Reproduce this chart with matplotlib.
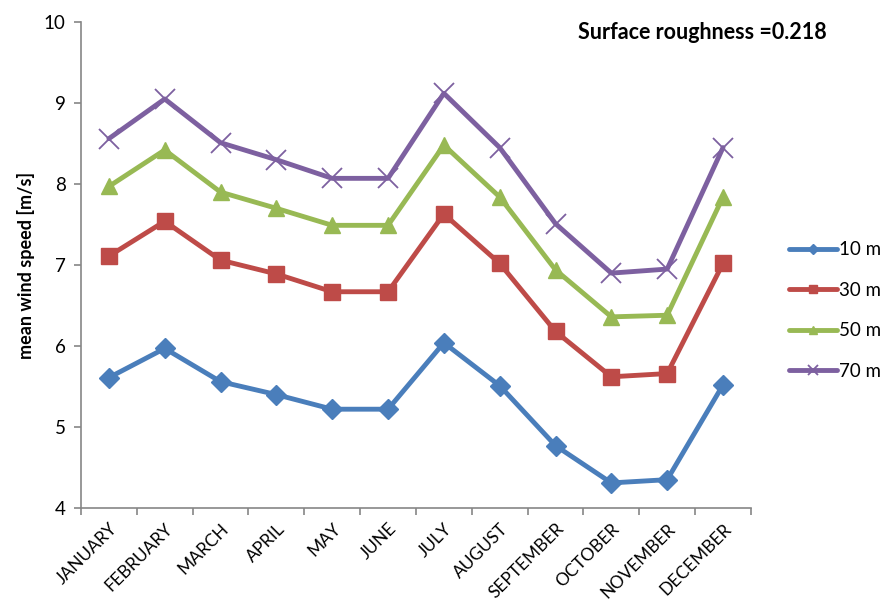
import numpy as np
import matplotlib.pyplot as plt
from matplotlib.ticker import FixedLocator

plt.rcParams['font.family'] = ['Lato', 'DejaVu Sans']

# Monthly mean wind speed at four hub heights
months = ['JANUARY', 'FEBRUARY', 'MARCH', 'APRIL', 'MAY', 'JUNE', 'JULY',
          'AUGUST', 'SEPTEMBER', 'OCTOBER', 'NOVEMBER', 'DECEMBER']
v10 = [5.61, 5.97, 5.56, 5.40, 5.22, 5.22, 6.04, 5.51, 4.77, 4.31, 4.35, 5.52]
v30 = [7.11, 7.54, 7.06, 6.89, 6.67, 6.67, 7.63, 7.02, 6.18, 5.62, 5.66, 7.02]
v50 = [7.97, 8.42, 7.90, 7.70, 7.49, 7.49, 8.48, 7.84, 6.94, 6.36, 6.38, 7.84]
v70 = [8.56, 9.05, 8.51, 8.30, 8.07, 8.07, 9.12, 8.45, 7.51, 6.90, 6.95, 8.45]
heights = ['10 m', '30 m', '50 m', '70 m']

clr_b = '#4A7EBB'
clr_r = '#BE4B48'
clr_g = '#98B954'
clr_p = '#7D60A0'

fig = plt.figure(figsize=(8.85, 6.05), dpi=100)
ax = fig.add_axes([0.0915, 0.1603, 0.757, 0.8033])

x = np.arange(len(months))
series = [(v10, clr_b, 'D', 10, 1), (v30, clr_r, 's', 12, 1),
          (v50, clr_g, '^', 12, 1), (v70, clr_p, 'x', 14, 1.3)]
lines = []
for (vals, c, m, ms, mew), lab in zip(series, heights):
    ln, = ax.plot(x, vals, '-', color=c, lw=3.5, marker=m, ms=ms,
                  mew=mew, mec=c, mfc=c, label=lab, solid_capstyle='round')
    lines.append(ln)

ax.set_xlim(-0.5, 11.5)
ax.set_ylim(4, 10)
ax.set_yticks(np.arange(4, 11, 1))
ax.set_xticks(x)
ax.set_xticklabels(months, rotation=45, ha='right', rotation_mode='anchor',
                   fontsize=12.5)
ax.xaxis.set_minor_locator(FixedLocator(np.arange(-0.5, 12, 1)))
ax.tick_params(axis='x', which='major', length=0, pad=9)
ax.tick_params(axis='x', which='minor', length=5, color='#868686', width=1.2)
ax.tick_params(axis='y', length=5, color='#868686', width=1.2, labelsize=13.5,
               pad=6)

for s in ['top', 'right']:
    ax.spines[s].set_visible(False)
for s in ['left', 'bottom']:
    ax.spines[s].set_color('#868686')
    ax.spines[s].set_linewidth(1.2)

ax.set_ylabel('mean wind speed [m/s]', fontsize=13, fontweight='bold',
              labelpad=6)

fig.text(0.9345, 0.947, 'Surface roughness =0.218', fontsize=15.5,
         fontweight='bold', ha='right', va='center')

leg = fig.legend(handles=lines, loc='upper left',
                 bbox_to_anchor=(0.872, 0.629), frameon=False, fontsize=13.5,
                 handlelength=2.6, handletextpad=0.1, labelspacing=1.25,
                 markerscale=0.5)

plt.savefig('out.png', dpi=100)
